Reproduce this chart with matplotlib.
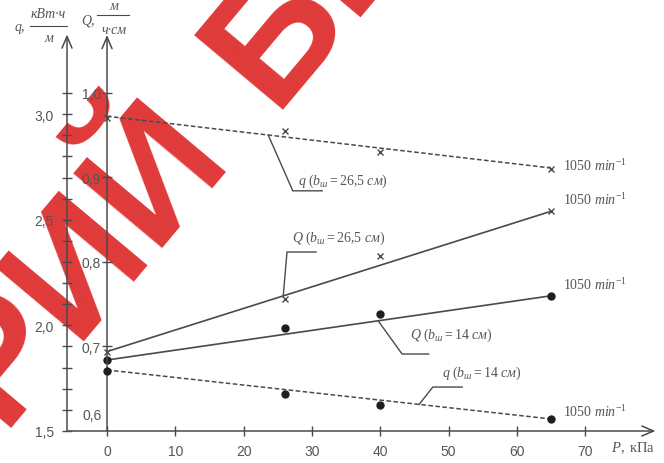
import numpy as np
import matplotlib
matplotlib.use("Agg")
import matplotlib.pyplot as plt
from matplotlib.lines import Line2D

plt.rcParams['mathtext.fontset'] = 'custom'
plt.rcParams['mathtext.it'] = 'Liberation Serif:italic'
plt.rcParams['mathtext.rm'] = 'Liberation Serif'

# measured points, P in kPa
P_pts = [0, 26, 40, 65]
q_wide = [2.98, 2.92, 2.82, 2.74]       # q, b = 26.5 cm
Q_wide = [0.694, 0.756, 0.807, 0.860]   # Q, b = 26.5 cm
Q_narrow = [0.684, 0.722, 0.738, 0.760]  # Q, b = 14 cm
q_narrow = [1.784, 1.675, 1.621, 1.557]  # q, b = 14 cm

# fitted lines (ends)
P_fit = [0, 65]
q_wide_fit = [2.99, 2.745]
Q_wide_fit = [0.694, 0.860]
Q_narrow_fit = [0.684, 0.760]
q_narrow_fit = [1.789, 1.557]

x_ticks = [0, 10, 20, 30, 40, 50, 60, 70]
Q_ticks = [0.7, 0.8, 0.9, 1.0]
q_major = [1.5, 2.0, 2.5, 3.0]
q_minor = [1.6, 1.7, 1.8, 1.9, 2.1, 2.2, 2.3, 2.4, 2.6, 2.7, 2.8, 2.9, 3.1]

speed = r'$\mathit{1050\ min^{-1}}$'

ink = '#4a4a4a'
txt = '#555555'
W, H = 664, 464

fig = plt.figure(figsize=(W / 100, H / 100), dpi=100)
ax = fig.add_axes([0, 0, 1, 1])
ax.set_xlim(-15.67, 81.55)
ax.set_ylim(0.56213, 1.11124)
ax2 = ax.twinx()
ax2.set_ylim(1.3485, 3.545)

def fx(px):
    return px / W

def fy(py):
    return 1 - py / H

# watermark
wm = dict(fontsize=122, fontweight='bold', family='Liberation Sans', color='#e03a3a',
          rotation=50, rotation_mode='anchor', va='baseline', transform=ax.transAxes, zorder=0)
ax.text(fx(272), fy(110), 'БНТУ', ha='left', **wm)
ax.text(fx(230), fy(154), 'РЕПОЗИТОРИЙ', ha='right', **wm)

# axes lines
for s in ['top', 'right', 'bottom', 'left']:
    ax.spines[s].set_visible(False)
    ax2.spines[s].set_visible(False)
ax.spines['left'].set_position(('data', 0))
ax.spines['bottom'].set_position(('data', 0.6))
ax2.spines['left'].set_position(('data', -5.86))
ax2.yaxis.tick_left()

arrow = dict(arrowstyle='->,head_length=0.7,head_width=0.3', color=ink, lw=1.1, mutation_scale=12,
             shrinkA=0, shrinkB=0)
ax.annotate('', xy=(0, 1.0686), xytext=(0, 0.6), arrowprops=arrow)
ax.annotate('', xy=(80.3, 0.6), xytext=(-5.86, 0.6), arrowprops=arrow)
ax2.annotate('', xy=(-5.86, 3.377), xytext=(-5.86, 1.5), arrowprops=arrow)

tick_kw = dict(direction='inout', length=7, width=1, color=ink, labelcolor=txt)
ax.set_xticks(x_ticks)
ax.set_xticklabels([str(v) for v in x_ticks], family='Liberation Sans', fontsize=10)
ax.tick_params(axis='x', pad=6, **tick_kw)
ax.set_yticks(Q_ticks)
ax.set_yticklabels([f'{v:.1f}'.replace('.', ',') for v in Q_ticks], family='Liberation Sans', fontsize=10)
ax.tick_params(axis='y', pad=1, **tick_kw)
ax.text(-0.7, 0.6105, '0,6', ha='right', va='bottom', family='Liberation Sans', fontsize=10, color=txt)

ax2.set_yticks(q_major)
ax2.set_yticks(q_minor, minor=True)
ax2.set_yticklabels([f'{v:.1f}'.replace('.', ',') for v in q_major], family='Liberation Sans', fontsize=10)
ax2.tick_params(axis='y', which='both', pad=6, **tick_kw)
ax2.tick_params(axis='y', which='minor', direction='inout', length=7)

# series
dash = (0, (3, 1.6))
ax2.plot(P_fit, q_wide_fit, color=ink, lw=1.1, ls=dash)
ax2.plot(P_pts, q_wide, 'x', color=ink, ms=4.5, mew=1)
ax.plot(P_fit, Q_wide_fit, color=ink, lw=1.2)
ax.plot(P_pts, Q_wide, 'x', color=ink, ms=4.5, mew=1)
ax.plot(P_fit, Q_narrow_fit, color=ink, lw=1.2)
ax.plot(P_pts, Q_narrow, 'o', color='#1e1e1e', ms=5)
ax2.plot(P_fit, q_narrow_fit, color=ink, lw=1.1, ls=dash)
ax2.plot(P_pts, q_narrow, 'o', color='#1e1e1e', ms=5)

# speed labels
lab = dict(fontsize=10, color=txt, ha='left', va='center')
ax2.text(66.8, q_wide_fit[1] + 0.016, speed, **lab)
ax.text(66.8, Q_wide_fit[1] + 0.015, speed, **lab)
ax.text(66.8, Q_narrow_fit[1] + 0.014, speed, **lab)
ax2.text(66.8, q_narrow_fit[1] + 0.038, speed, **lab)

# curve names with leaders
names = [
    (ax2, q_wide_fit, r'$\mathit{q\ (b_{ш}{=}26{,}5\ см)}$', 23.6, [(27.2, 2.637), (31.5, 2.637)], (28.0, 2.685)),
    (ax, Q_wide_fit, r'$\mathit{Q\ (b_{ш}{=}26{,}5\ см)}$', 25.8, [(26.35, 0.8118), (30.6, 0.8118)], (27.1, 0.8296)),
    (ax, Q_narrow_fit, r'$\mathit{Q\ (b_{ш}{=}14\ см)}$', 39.7, [(43.2, 0.6911), (47.1, 0.6911)], (44.4, 0.7148)),
    (ax2, q_narrow_fit, r'$\mathit{q\ (b_{ш}{=}14\ см)}$', 45.7, [(47.7, 1.708), (52.0, 1.708)], (49.0, 1.78)),
]
for a, fit, name, p0, elbow, pos in names:
    y0 = np.interp(p0, P_fit, fit)
    xs = [p0] + [e[0] for e in elbow]
    ys = [y0] + [e[1] for e in elbow]
    a.plot(xs, ys, color=ink, lw=1)
    a.text(pos[0], pos[1], name, fontsize=10, color=txt, ha='left', va='center')

ax.text(77.0, 0.5811, r'$\mathit{P},\mathrm{\ кПа}$', fontsize=10.5, color=txt, ha='center', va='center')

# axis titles
it = dict(family='Liberation Serif', style='italic', color=txt, ha='center', va='center', fontsize=10)
fig.text(fx(20), fy(27), 'q,', **it)
fig.text(fx(48), fy(15), 'кВт·ч', **it)
fig.text(fx(49), fy(38), 'м', **it)
fig.text(fx(88), fy(21), 'Q,', **it)
fig.text(fx(114), fy(6), 'м', **it)
fig.text(fx(114), fy(30), 'ч·см', **it)
fig.add_artist(Line2D([fx(30), fx(67)], [fy(27)] * 2, color=ink, lw=0.8))
fig.add_artist(Line2D([fx(97), fx(129)], [fy(16)] * 2, color=ink, lw=0.8))

fig.savefig('out.png', dpi=100)
